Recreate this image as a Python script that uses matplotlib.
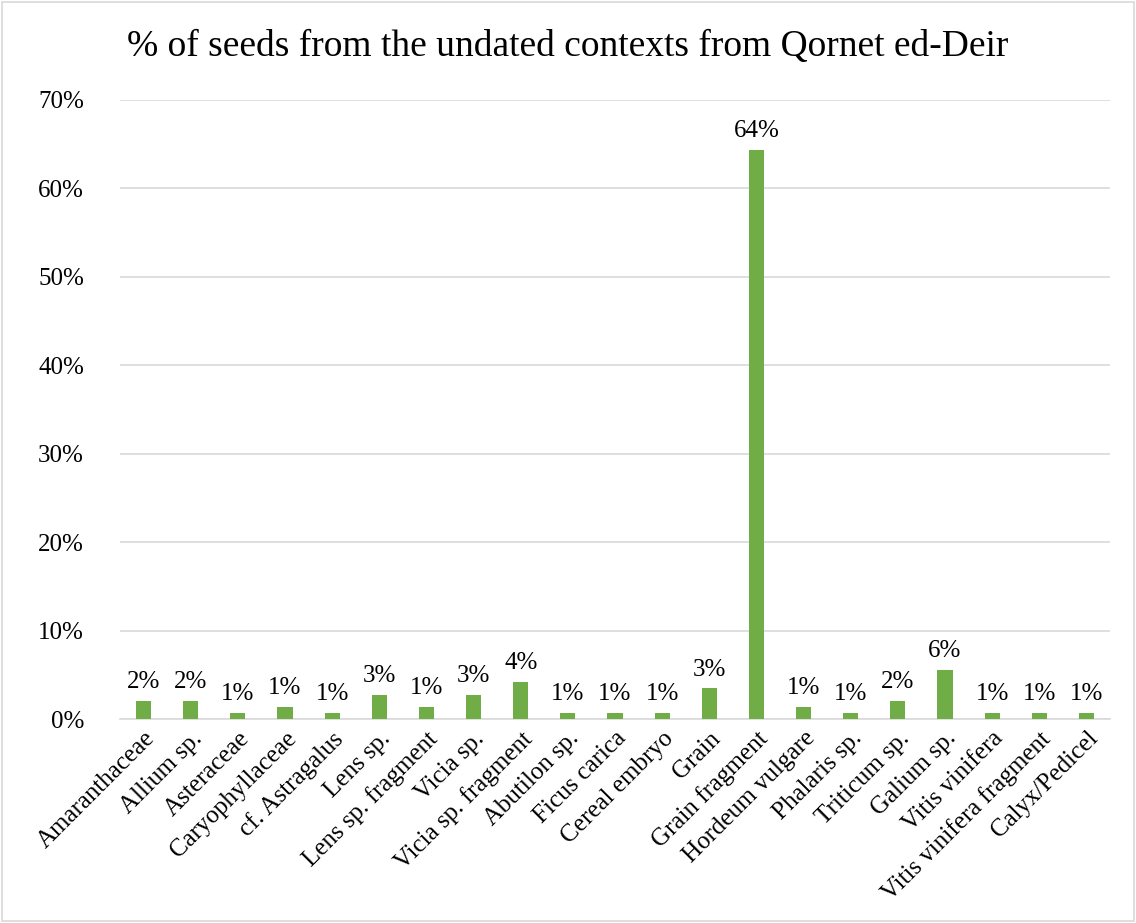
import matplotlib.pyplot as plt
from matplotlib.ticker import PercentFormatter
from matplotlib.patches import Rectangle

plt.rcParams['font.family'] = ['Liberation Serif', 'DejaVu Serif']

# Share of seeds (%) per taxon
taxa = ['Amaranthaceae', 'Allium sp.', 'Asteraceae', 'Caryophyllaceae', 'cf. Astragalus',
        'Lens sp.', 'Lens sp. fragment', 'Vicia sp.', 'Vicia sp. fragment', 'Abutilon sp.',
        'Ficus carica', 'Cereal embryo', 'Grain', 'Grain fragment', 'Hordeum vulgare',
        'Phalaris sp.', 'Triticum sp.', 'Galium sp.', 'Vitis vinifera',
        'Vitis vinifera fragment', 'Calyx/Pedicel']
share = [2.07, 2.07, 0.69, 1.38, 0.69, 2.76, 1.38, 2.76, 4.14, 0.69,
         0.69, 0.69, 3.45, 64.3, 1.38, 0.69, 2.07, 5.52, 0.69, 0.69, 0.69]

fig = plt.figure(figsize=(11.36, 9.23), dpi=100)
ax = fig.add_axes([120 / 1136, 1 - 719 / 923, 990 / 1136, 619 / 923])

x = range(len(taxa))
bars = ax.bar(x, share, width=0.32, color='#70AD47', zorder=3)
for xi, v in zip(x, share):
    ax.text(xi, v + 0.9, f'{v:.0f}%', ha='center', va='bottom', fontsize=18)

ax.set_xlim(-0.5, len(taxa) - 0.5)
ax.set_ylim(0, 70)
ax.set_yticks(range(0, 71, 10))
ax.yaxis.set_major_formatter(PercentFormatter(decimals=0))
ax.yaxis.grid(True, color='#D9D9D9', linewidth=1.2, zorder=0)
for side in ['top', 'right', 'left']:
    ax.spines[side].set_visible(False)
ax.spines['bottom'].set_color('#D9D9D9')
ax.spines['bottom'].set_linewidth(1.2)
ax.tick_params(axis='both', length=0, labelsize=18)
ax.tick_params(axis='y', pad=26)
ax.tick_params(axis='x', pad=6)
ax.set_xticks(list(x))
ax.set_xticklabels(taxa, rotation=45, ha='right', rotation_mode='anchor')

fig.text(0.5, 1 - 47 / 923, '% of seeds from the undated contexts from Qornet ed-Deir',
         ha='center', va='center', fontsize=27)

# light frame around the chart
fig.patches.append(Rectangle((2 / 1136, 2 / 923), 1 - 4 / 1136, 1 - 4 / 923,
                             transform=fig.transFigure, fill=False,
                             edgecolor='#D9D9D9', linewidth=1.2))

plt.savefig('out.png', dpi=100)
